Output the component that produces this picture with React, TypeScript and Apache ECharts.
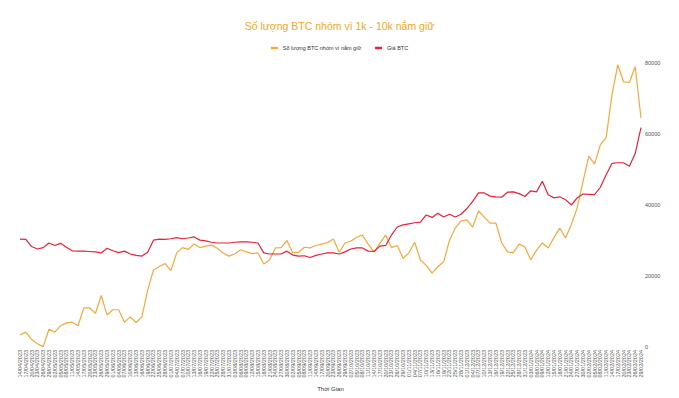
import React, { useEffect, useRef } from "react";
import * as echarts from "echarts";

const dates: string[] = [
  "14/04/2023","17/04/2023","20/04/2023","23/04/2023","26/04/2023","29/04/2023",
  "02/05/2023","05/05/2023","08/05/2023","11/05/2023","14/05/2023","17/05/2023","20/05/2023","23/05/2023","26/05/2023","29/05/2023",
  "01/06/2023","04/06/2023","07/06/2023","10/06/2023","13/06/2023","16/06/2023","19/06/2023","22/06/2023","25/06/2023","28/06/2023",
  "01/07/2023","04/07/2023","07/07/2023","10/07/2023","13/07/2023","16/07/2023","19/07/2023","22/07/2023","25/07/2023","28/07/2023","31/07/2023",
  "03/08/2023","06/08/2023","09/08/2023","12/08/2023","15/08/2023","18/08/2023","21/08/2023","24/08/2023","27/08/2023","30/08/2023",
  "02/09/2023","05/09/2023","08/09/2023","11/09/2023","14/09/2023","17/09/2023","20/09/2023","23/09/2023","26/09/2023","29/09/2023",
  "02/10/2023","05/10/2023","08/10/2023","11/10/2023","14/10/2023","17/10/2023","20/10/2023","23/10/2023","26/10/2023","29/10/2023",
  "01/11/2023","04/11/2023","07/11/2023","10/11/2023","13/11/2023","16/11/2023","19/11/2023","22/11/2023","25/11/2023","28/11/2023",
  "01/12/2023","04/12/2023","07/12/2023","10/12/2023","13/12/2023","16/12/2023","19/12/2023","22/12/2023","25/12/2023","28/12/2023","31/12/2023",
  "03/01/2024","06/01/2024","09/01/2024","12/01/2024","15/01/2024","18/01/2024","21/01/2024","24/01/2024","27/01/2024","30/01/2024",
  "02/02/2024","05/02/2024","08/02/2024","11/02/2024","14/02/2024","17/02/2024","20/02/2024","23/02/2024","26/02/2024","29/02/2024",
];

const holdings: number[] = [
  3400, 4200, 2100, 900, 100, 5000, 4200, 6000, 6800, 7000,
  6000, 11000, 11000, 9500, 14500, 9000, 10500, 10500, 7000, 8500,
  6900, 8500, 16000, 21700, 22700, 23500, 21500, 26500, 28000, 27500,
  29000, 28000, 28400, 28700, 27800, 26500, 25600, 26200, 27400, 26800,
  26300, 26500, 23400, 24500, 27900, 28000, 30000, 26500, 26700, 28100,
  27900, 28600, 29000, 29400, 30400, 26700, 29300, 29800, 30900, 31500,
  29000, 26700, 29200, 31500, 28000, 28600, 25000, 26500, 29500, 24500,
  23000, 20800, 22600, 24000, 30000, 33500, 35500, 35800, 33800, 38300,
  36600, 34900, 34900, 29300, 26800, 26500, 29000, 28200, 24500, 27300,
  29300, 27900, 30800, 33500, 30700, 34500, 39200, 46500, 53800, 51500,
  57000, 59000, 71000, 79500, 74700, 74500, 79000, 64500,
];

const price: number[] = [
  30400, 30300, 28300, 27600, 28000, 29300, 28600, 29200, 28100, 27100,
  27000, 27000, 26900, 26800, 26500, 27800, 27100, 26600, 27000, 26200,
  25800, 25600, 26700, 30100, 30400, 30300, 30500, 30800, 30500, 30700,
  31000, 30100, 29900, 29500, 29300, 29300, 29300, 29500, 29600, 29600,
  29500, 29300, 26500, 26200, 26200, 26200, 27000, 25900, 25600, 25700,
  25200, 25800, 26200, 26500, 26500, 26200, 26800, 27600, 27900, 27900,
  27000, 26900, 28400, 28600, 31500, 33800, 34400, 34700, 35000, 35200,
  37200, 36500, 37700, 36600, 37400, 36600, 37400, 39000, 41000, 43400,
  43400, 42500, 42300, 42200, 43600, 43700, 43200, 42400, 44000, 43700,
  46700, 42900, 42000, 42300, 41500, 40000, 42000, 43100, 43000, 42900,
  45000, 48500, 51700, 51900, 51900, 50900, 54500, 61800,
];

const yTicks = { min: 0, max: 80000, interval: 20000 };

export default function App() {
  const ref = useRef<HTMLDivElement>(null);
  useEffect(() => {
    if (!ref.current) return;
    const chart = echarts.init(ref.current, undefined, { renderer: "svg" });
    const font = "Arial, Liberation Sans, sans-serif";
    chart.setOption({
      animation: false,
      backgroundColor: "#ffffff",
      title: {
        text: "Số lượng BTC nhóm ví 1k - 10k nắm giữ",
        left: "center",
        top: 15,
        textStyle: { color: "#F5A623", fontSize: 10.5, fontWeight: "normal", fontFamily: font },
      },
      legend: {
        top: 40,
        left: "center",
        icon: "rect",
        itemWidth: 7,
        itemHeight: 2.5,
        itemGap: 14,
        textStyle: { fontSize: 5.5, color: "#333", fontFamily: font },
        data: ["Số lượng BTC nhóm ví nắm giữ", "Giá BTC"],
      },
      grid: { left: 20, right: 38, top: 63, bottom: 51, containLabel: false },
      xAxis: {
        type: "category",
        data: dates,
        boundaryGap: false,
        name: "Thời Gian",
        nameLocation: "middle",
        nameGap: 39,
        nameTextStyle: { fontSize: 6, color: "#333", fontFamily: font },
        axisLine: { show: false },
        axisTick: { show: false },
        axisLabel: { interval: 0, rotate: 90, fontSize: 5.5, color: "#555", margin: 3, fontFamily: font },
        splitLine: { show: false },
      },
      yAxis: {
        type: "value",
        position: "right",
        min: yTicks.min,
        max: yTicks.max,
        interval: yTicks.interval,
        axisLine: { show: false },
        axisTick: { show: false },
        splitLine: { show: false },
        axisLabel: { fontSize: 5.5, color: "#555", margin: 4, fontFamily: font, formatter: (v: number) => String(v) },
      },
      series: [
        {
          name: "Số lượng BTC nhóm ví nắm giữ",
          type: "line",
          data: holdings,
          showSymbol: false,
          symbol: "none",
          lineStyle: { color: "#F5A83E", width: 1.2 },
          itemStyle: { color: "#F5A83E" },
        },
        {
          name: "Giá BTC",
          type: "line",
          data: price,
          showSymbol: false,
          symbol: "none",
          lineStyle: { color: "#E8213A", width: 1.2 },
          itemStyle: { color: "#E8213A" },
        },
      ],
    });
    return () => chart.dispose();
  }, []);
  return <div ref={ref} style={{ position: "absolute", left: 0, top: 0, width: 679, height: 398 }} />;
}
